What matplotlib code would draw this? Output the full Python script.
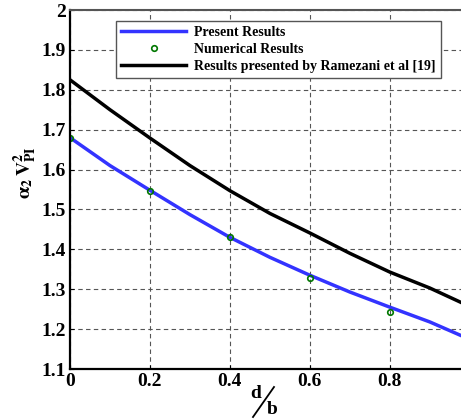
import numpy as np
import matplotlib.pyplot as plt
from matplotlib.lines import Line2D

# valori
x_pres = [0, 0.1, 0.2, 0.3, 0.4, 0.5, 0.6, 0.7, 0.8, 0.9, 0.98]
y_pres = [1.68, 1.610, 1.548, 1.487, 1.430, 1.380, 1.335, 1.293, 1.255, 1.218, 1.183]

x_num = [0, 0.2, 0.4, 0.6, 0.8]
y_num = [1.68, 1.545, 1.43, 1.328, 1.243]

x_ram = [0, 0.1, 0.2, 0.3, 0.4, 0.5, 0.6, 0.7, 0.8, 0.9, 0.98]
y_ram = [1.825, 1.750, 1.679, 1.610, 1.547, 1.490, 1.441, 1.390, 1.343, 1.303, 1.266]

plt.rcParams['font.family'] = 'Liberation Serif'
plt.rcParams['font.weight'] = 'bold'
plt.rcParams['mathtext.fontset'] = 'stix'

fig = plt.figure(figsize=(4.61, 4.2), dpi=100)
ax = fig.add_axes([70/461, 1-369/420, 1-70/461, 359/420])

ax.plot(x_pres, y_pres, color='#3333ff', lw=2.5, label='Present Results')
ax.plot(x_num, y_num, 'o', mfc='none', mec='#007700', ms=4, mew=1.2,
        label='Numerical Results')
ax.plot(x_ram, y_ram, color='black', lw=2.5,
        label='Results presented by Ramezani et al [19]')

ax.set_xlim(0, 0.978)
ax.set_ylim(1.1, 2.0)
ax.set_xticks([0, 0.2, 0.4, 0.6, 0.8])
ax.set_xticklabels(['0', '0.2', '0.4', '0.6', '0.8'])
ax.set_yticks(np.arange(1.1, 2.01, 0.1))
ax.set_yticklabels(['1.1', '1.2', '1.3', '1.4', '1.5', '1.6', '1.7', '1.8', '1.9', '2'])
ax.tick_params(direction='in', length=3, labelsize=14, pad=3)
ax.grid(True, ls=(0, (4, 3)), color='#555555', lw=0.8)

for s in ['left', 'bottom']:
    ax.spines[s].set_linewidth(1.6)
ax.spines['top'].set_color('#555555')
ax.spines['top'].set_linewidth(1.5)
ax.spines['right'].set_visible(False)

leg = ax.legend(loc='upper left', bbox_to_anchor=(116/461, 1-21/420),
                bbox_transform=fig.transFigure, fontsize=10,
                fancybox=False, framealpha=1, edgecolor='#555555',
                borderpad=0.35, labelspacing=0.3, handlelength=4.7,
                handletextpad=0.6, borderaxespad=0)
leg.get_frame().set_linewidth(1.0)

fig.text(0.054, 0.59, r'$\mathbf{\alpha_2\,V_{PI}^2}$', rotation=90,
         fontsize=14, ha='center', va='center')

# etichetta asse x: d/b (la barra e' una linea)
fig.text(256/461, 1-394/420, 'd', fontsize=14, ha='center', va='center')
fig.add_artist(Line2D([253/461, 274/461], [1-417/420, 1-387/420],
                      transform=fig.transFigure, color='black', lw=1.3))
fig.text(272/461, 1-410/420, 'b', fontsize=14, ha='center', va='center')

fig.savefig('out.png', dpi=100)
